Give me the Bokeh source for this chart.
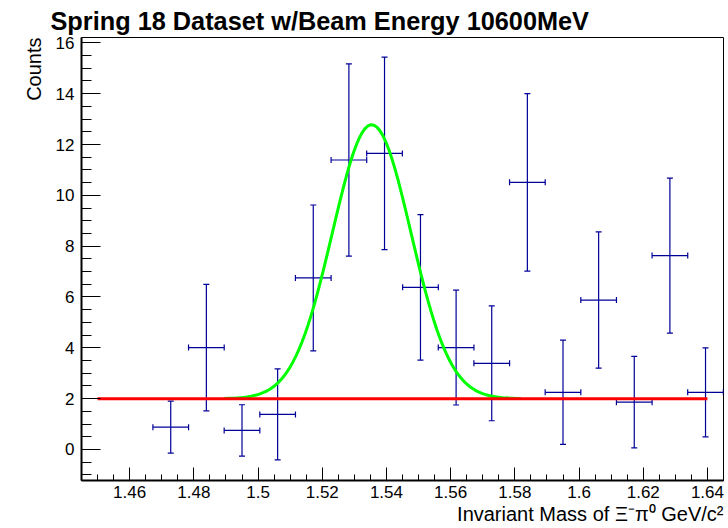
import numpy as np
from bokeh.plotting import figure
from bokeh.models import ColumnDataSource, Whisker, TeeHead, FixedTicker, Range1d, Title
from bokeh.embed import file_html
from bokeh.resources import INLINE

# ---------------- data ----------------
title_text = "Spring 18 Dataset w/Beam Energy 10600MeV"
x_label = "Invariant Mass of \u039e\u207b\u03c0\u2070 GeV/c\u00b2"
y_label = "Counts"

bin_centers = [1.4728, 1.4839, 1.4950, 1.5061, 1.5172, 1.5283, 1.5394, 1.5506,
               1.5617, 1.5728, 1.5839, 1.5950, 1.6061, 1.6172, 1.6283, 1.6394]
counts = [0.88, 4.01, 0.75, 1.38, 6.75, 11.39, 11.65, 6.38,
          4.01, 3.39, 10.51, 2.25, 5.88, 1.86, 7.63, 2.25]
errors = [1.02, 2.49, 1.01, 1.79, 2.87, 3.78, 3.79, 2.86,
          2.26, 2.26, 3.49, 2.05, 2.68, 1.80, 3.05, 1.75]
bin_half_width = 0.005556

# Gaussian + constant fit (green) and constant background (red)
fit_const = 2.0
fit_amp = 10.78
fit_mean = 1.5354
fit_sigma = 0.01223
fit_lo, fit_hi = 1.4894, 1.5819
bkg_lo, bkg_hi = 1.45, 1.64

x_ticks = [1.46, 1.48, 1.5, 1.52, 1.54, 1.56, 1.58, 1.6, 1.62, 1.64]
x_tick_labels = ["1.46", "1.48", "1.5", "1.52", "1.54", "1.56", "1.58", "1.6", "1.62", "1.64"]
y_ticks = [0, 2, 4, 6, 8, 10, 12, 14, 16]
y_tick_labels = ["0", "2", "4", "6", "8", "10", "12", "14", "16"]

X0, X1 = 1.445, 1.645
Y0, Y1 = -1.22, 16.21

# ---------------- layout ----------------
W, H = 728, 528
ML, MR, MT, MB = 81, 5, 37, 48

FONT = "Liberation Sans"
BLUE = "#000099"

p = figure(width=W, height=H, x_range=Range1d(X0, X1), y_range=Range1d(Y0, Y1),
           output_backend="svg", toolbar_location=None, title=None,
           min_border_left=ML, min_border_right=MR, min_border_top=MT, min_border_bottom=MB)
p.background_fill_color = "white"
p.border_fill_color = "white"
p.outline_line_color = "black"
p.outline_line_width = 1
p.xgrid.visible = False
p.ygrid.visible = False

x_minor = [round(v, 4) for v in np.arange(1.445, 1.6451, 0.005)]
y_minor = [round(v, 2) for v in np.arange(-1.0, 16.01, 0.5)]
p.xaxis.ticker = FixedTicker(ticks=x_ticks, minor_ticks=x_minor)
p.yaxis.ticker = FixedTicker(ticks=y_ticks, minor_ticks=y_minor)
p.xaxis.major_label_overrides = dict(zip(x_ticks, x_tick_labels))
p.yaxis.major_label_overrides = dict(zip(y_ticks, y_tick_labels))

for ax in (p.xaxis[0], p.yaxis[0]):
    ax.major_tick_out = 0
    ax.minor_tick_out = 0
    ax.axis_line_color = "black"
    ax.axis_line_width = 2
    ax.major_tick_line_color = "black"
    ax.minor_tick_line_color = "black"
    ax.major_tick_line_width = 1
    ax.minor_tick_line_width = 1
    ax.major_label_text_font = FONT
    ax.major_label_text_font_size = "17px"
    ax.major_label_text_color = "black"
p.xaxis.major_tick_in = 13
p.xaxis.minor_tick_in = 6
p.yaxis.major_tick_in = 19
p.yaxis.minor_tick_in = 10
p.xaxis.major_label_standoff = 5
p.yaxis.major_label_standoff = 7

# ---------------- error bars ----------------
xc = np.array(bin_centers)
yc = np.array(counts)
ye = np.array(errors)
src = ColumnDataSource(dict(x=xc, y=yc, lo=yc - ye, hi=yc + ye,
                            xl=xc - bin_half_width, xr=xc + bin_half_width))

def tee():
    return TeeHead(size=6, line_color=BLUE, line_width=1.2)

vbar = Whisker(source=src, base="x", lower="lo", upper="hi", dimension="height",
               line_color=BLUE, line_width=1.2, upper_head=tee(), lower_head=tee())
hbar = Whisker(source=src, base="y", lower="xl", upper="xr", dimension="width",
               line_color=BLUE, line_width=1.2, upper_head=tee(), lower_head=tee())
p.add_layout(vbar)
p.add_layout(hbar)

# ---------------- fit curves ----------------
fx = np.linspace(fit_lo, fit_hi, 100)
fy = fit_const + fit_amp * np.exp(-0.5 * ((fx - fit_mean) / fit_sigma) ** 2)
p.line(fx, fy, line_color="#00ff00", line_width=3)
p.line([bkg_lo, bkg_hi], [fit_const, fit_const], line_color="#ff0000", line_width=3)

# ---------------- texts ----------------
p.add_layout(Title(text=title_text, text_font=FONT, text_font_style="bold",
                   text_font_size="25.3px", text_color="black", align="left",
                   offset=-31, standoff=5), "above")
p.add_layout(Title(text=x_label, text_font=FONT, text_font_style="normal",
                   text_font_size="20px", text_color="black", align="right",
                   offset=0, standoff=0), "below")
p.add_layout(Title(text=y_label, text_font=FONT, text_font_style="normal",
                   text_font_size="20px", text_color="black", align="right",
                   offset=0, standoff=15), "left")

open("out.html", "w").write(file_html(p, INLINE))
